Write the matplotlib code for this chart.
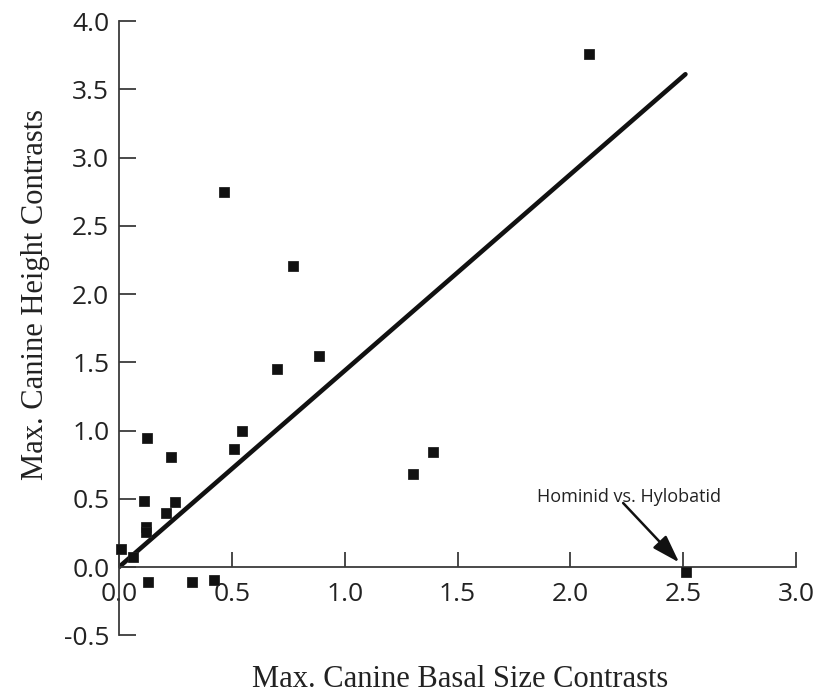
import matplotlib
matplotlib.use("Agg")
import matplotlib.pyplot as plt

# Data
basal_size = [2.081, 0.465, 0.772, 0.885, 0.699, 0.544, 0.511, 0.123, 0.232,
              1.304, 1.390, 0.109, 0.247, 0.207, 0.120, 0.118, 0.010, 0.063,
              0.130, 0.323, 0.422, 2.511]
canine_height = [3.756, 2.745, 2.207, 1.546, 1.451, 0.999, 0.864, 0.943, 0.808,
                 0.679, 0.842, 0.486, 0.478, 0.393, 0.291, 0.259, 0.132, 0.075,
                 -0.112, -0.112, -0.095, -0.034]
fit_x = [0.0, 2.51]
fit_y = [0.0, 3.61]
x_ticks = [0.0, 0.5, 1.0, 1.5, 2.0, 2.5, 3.0]
y_ticks = [-0.5, 0.0, 0.5, 1.0, 1.5, 2.0, 2.5, 3.0, 3.5, 4.0]
annot_label = "Hominid vs. Hylobatid"
annot_text_pos = (2.261, 0.515)
arrow_start = (2.234, 0.469)
arrow_tip = (2.482, 0.034)

W, H = 818, 696
fig = plt.figure(figsize=(W / 100, H / 100), dpi=100)
ax = fig.add_axes([119 / W, 1 - 635.3 / H, (796 - 119) / W, (635.3 - 21) / H])

spine_color = "#3a3a3a"
tick_font = "Open Sans"

ax.plot(fit_x, fit_y, color="#111111", lw=3.3, solid_capstyle="round", zorder=2)
ax.plot(basal_size, canine_height, "s", color="#111111", markersize=7.8,
        markeredgewidth=0.6, markeredgecolor="#222222", clip_on=False, zorder=3)

ax.set_xlim(0, 3.0)
ax.set_ylim(-0.5, 4.0)
ax.spines["top"].set_visible(False)
ax.spines["right"].set_visible(False)
ax.spines["bottom"].set_position(("data", 0))
for s in ("left", "bottom"):
    ax.spines[s].set_color(spine_color)
    ax.spines[s].set_linewidth(1.3)

ax.set_xticks(x_ticks)
ax.set_yticks(y_ticks)
ax.set_xticklabels([f"{v:.1f}" for v in x_ticks], fontfamily=tick_font, fontsize=19,
                   color="#222222")
ax.set_yticklabels([f"{v:.1f}" for v in y_ticks], fontfamily=tick_font, fontsize=19,
                   color="#222222")
ax.tick_params(axis="x", direction="in", length=11, width=1.3, color=spine_color, pad=11)
ax.tick_params(axis="y", direction="in", length=12, width=1.3, color=spine_color, pad=7)

ax.text(annot_text_pos[0], annot_text_pos[1], annot_label, ha="center", va="center",
        fontfamily=tick_font, fontsize=13, color="#222222", clip_on=False)
ax.annotate("", xy=arrow_tip, xytext=arrow_start, textcoords="data",
            arrowprops=dict(arrowstyle="-|>,head_length=1.7,head_width=0.55",
                            mutation_scale=10, color="#111111", lw=1.8,
                            shrinkA=0, shrinkB=0),
            annotation_clip=False)

fig.text(460 / W, 1 - 687 / H, "Max. Canine Basal Size Contrasts",
         fontfamily="Liberation Serif", fontsize=22, ha="center", va="baseline",
         color="#222222")
fig.text(36 / W, 1 - 294 / H, "Max. Canine Height Contrasts",
         fontfamily="Liberation Serif", fontsize=22, ha="center", va="center",
         rotation=90, color="#222222")

fig.savefig("out.png", dpi=100, facecolor="white")
